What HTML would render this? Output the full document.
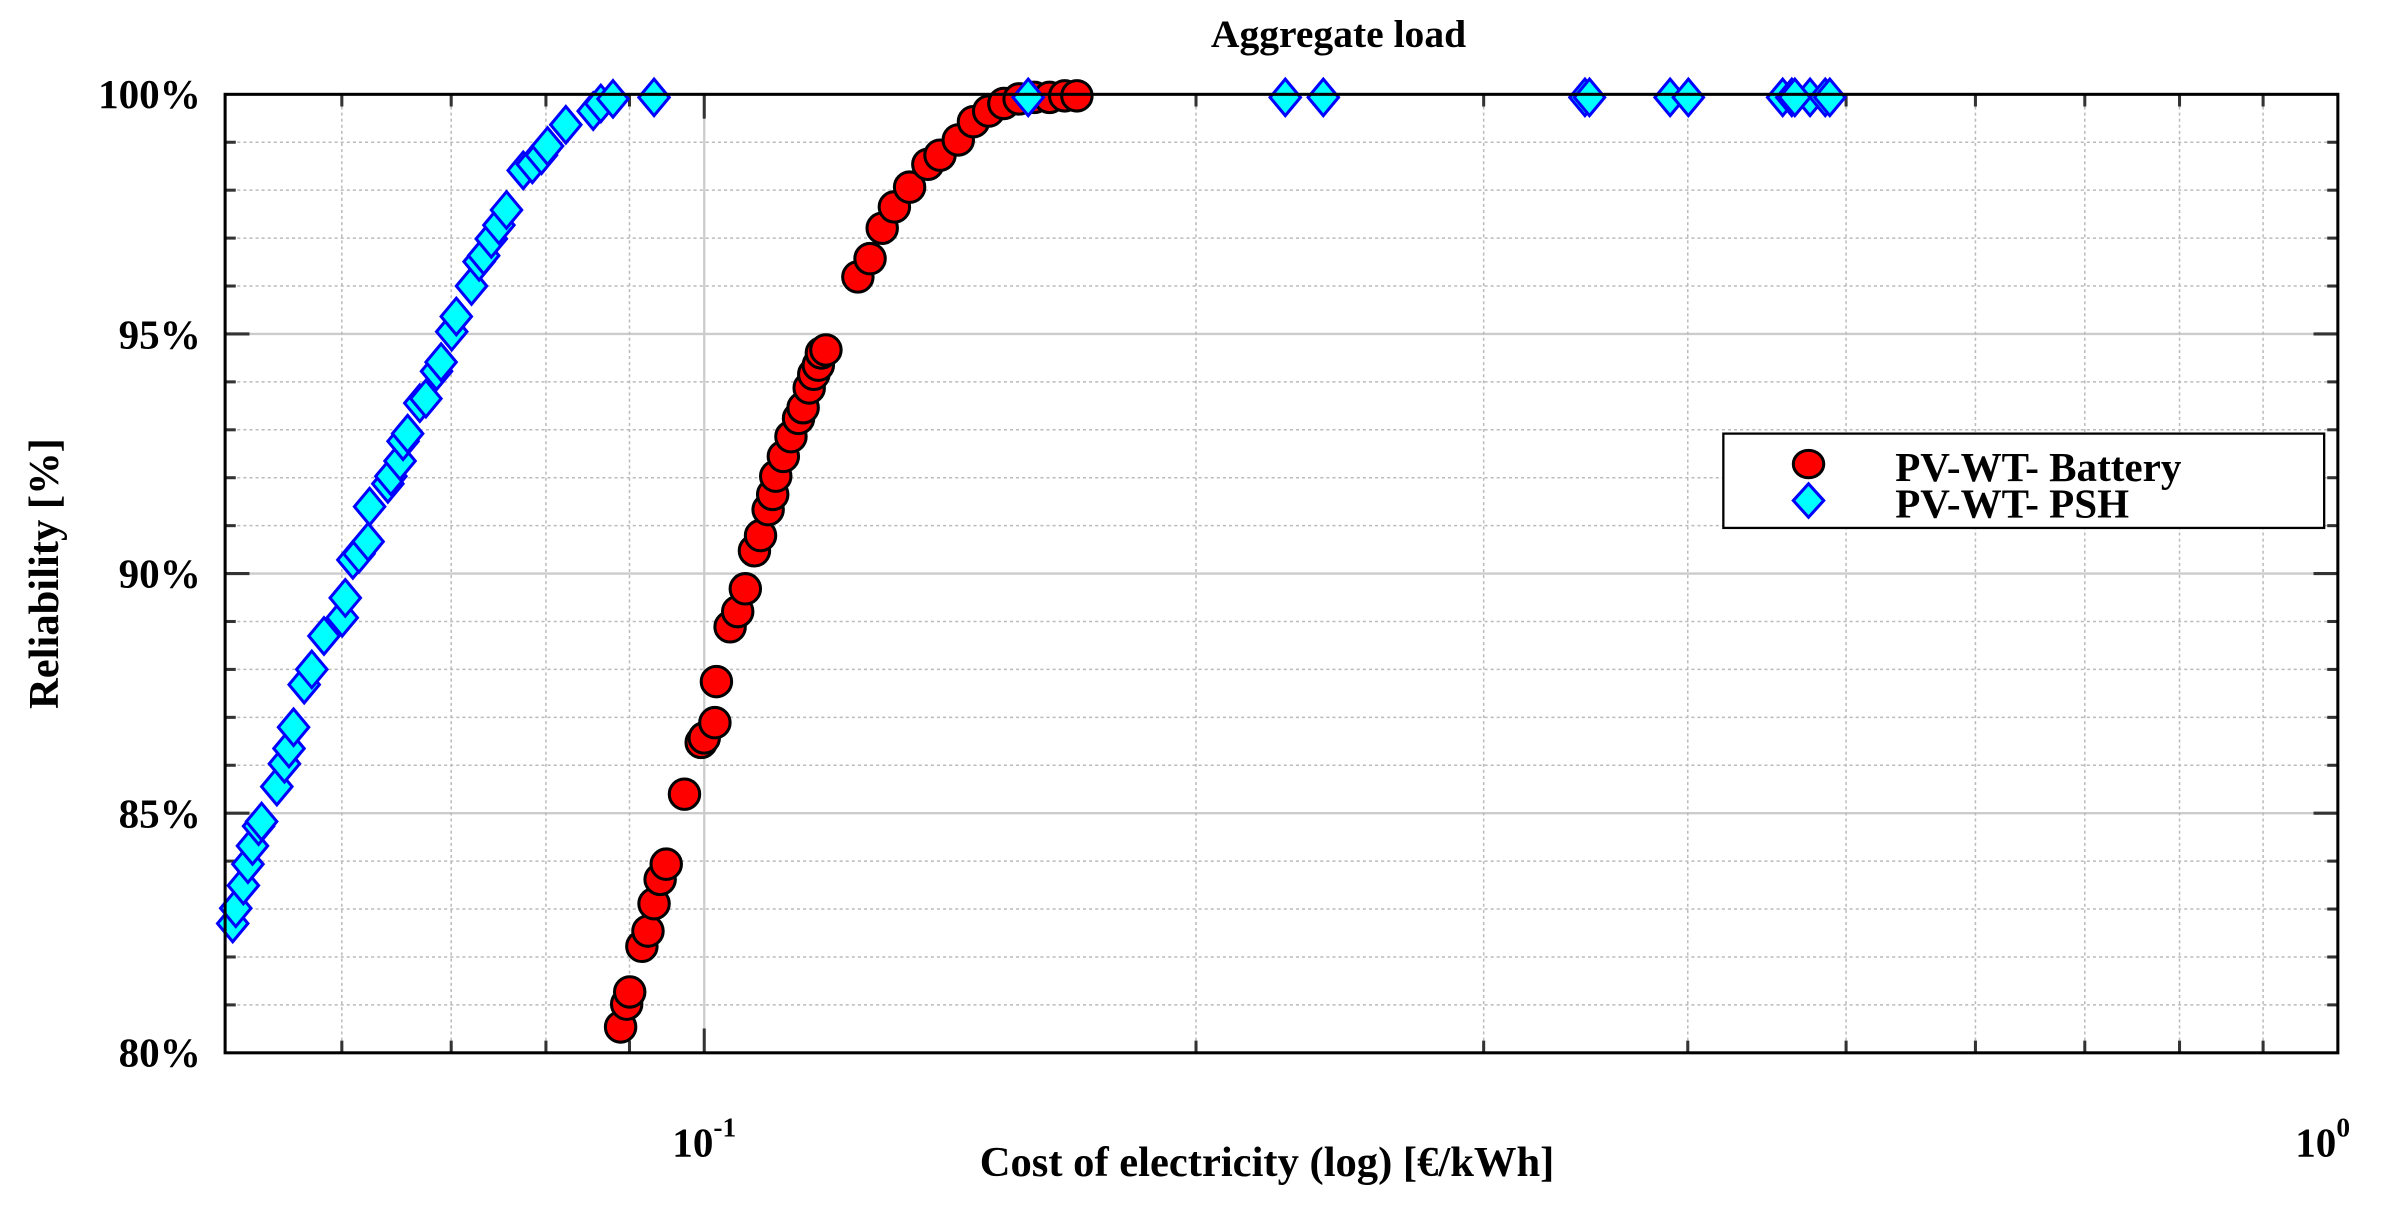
<!DOCTYPE html>
<html><head><meta charset="utf-8"><style>
html,body{margin:0;padding:0;background:#fff;}
svg{display:block;}
text{font-family:"Liberation Serif",serif;font-weight:bold;fill:#000;}
</style></head><body>
<svg id="s" width="2385" height="1208" viewBox="0 0 1568 794" preserveAspectRatio="none" xmlns="http://www.w3.org/2000/svg">
<rect width="1568" height="794" fill="#fff"/>
<g id="grid"></g>
<g id="pts"></g>
<rect x="148" y="62" width="1389" height="630" fill="none" stroke="#000" stroke-width="2"/>
<text x="880" y="31" font-size="26" text-anchor="middle">Aggregate load</text>
<text x="132" y="71" font-size="27" text-anchor="end">100%</text>
<text x="132" y="229" font-size="27" text-anchor="end">95%</text>
<text x="132" y="386" font-size="27" text-anchor="end">90%</text>
<text x="132" y="544" font-size="27" text-anchor="end">85%</text>
<text x="132" y="701" font-size="27" text-anchor="end">80%</text>
<text x="463" y="760" font-size="27" text-anchor="middle">10<tspan dy="-13" font-size="18">-1</tspan></text>
<text x="1527" y="760" font-size="27" text-anchor="middle">10<tspan dy="-13" font-size="18">0</tspan></text>
<text x="833" y="773" font-size="28" text-anchor="middle">Cost of electricity (log) [€/kWh]</text>
<text transform="translate(38,377) rotate(-90)" font-size="28" text-anchor="middle">Reliability [%]</text>
<rect x="1133" y="285" width="395" height="62" fill="#fff" stroke="#000" stroke-width="1.5"/>
<ellipse cx="1189" cy="305" rx="10" ry="9" fill="#f00" stroke="#000" stroke-width="2"/>
<polygon points="1189,318 1199,329 1189,340 1179,329" fill="#0ff" stroke="#00f" stroke-width="2"/>
<text x="1246" y="316" font-size="27">PV-WT- Battery</text>
<text x="1246" y="340" font-size="27">PV-WT- PSH</text>
</svg>
<script>
var NS="http://www.w3.org/2000/svg",g=document.getElementById('grid'),p=document.getElementById('pts');
function el(t,a,par){var e=document.createElementNS(NS,t);for(var k in a)e.setAttribute(k,a[k]);par.appendChild(e);return e;}
function X(v){return 463+1074*Math.log10(v/0.1);}
for(var i=1;i<20;i++){var y=62+i*31.5;var maj=(i%5==0);
el('line',{x1:148,x2:1537,y1:y,y2:y,stroke:maj?'#ccc':'#bbb','stroke-width':maj?1.5:1,'stroke-dasharray':maj?'':'2,2'},g);
el('line',{x1:148,x2:maj?164:155,y1:y,y2:y,stroke:'#333','stroke-width':2},g);
el('line',{x1:1537,x2:maj?1521:1530,y1:y,y2:y,stroke:'#333','stroke-width':2},g);}
var xs=[0.06,0.07,0.08,0.09,0.1,0.2,0.3,0.4,0.5,0.6,0.7,0.8,0.9];
xs.forEach(function(v){var x=X(v);var maj=Math.abs(v-0.1)<1e-9;
el('line',{x1:x,x2:x,y1:62,y2:692,stroke:maj?'#ccc':'#bbb','stroke-width':maj?1.5:1,'stroke-dasharray':maj?'':'2,2'},g);
el('line',{x1:x,x2:x,y1:692,y2:maj?676:684,stroke:'#333','stroke-width':2},g);
el('line',{x1:x,x2:x,y1:62,y2:maj?78:70,stroke:'#333','stroke-width':2},g);});
var red=[[408,675],[412,660],[414,652],[422,622],[426,612],[430,594],[434,578],[438,568],[450,522],[461,488],[463,485],[470,475],[471,448],[480,412],[485,402],[490,387],[496,362],[500,352],[505,335],[508,325],[510,313],[515,300],[520,287],[525,275],[528,268],[532,255],[535,246],[538,240],[540,232],[543,230],[564,182],[572,170],[580,150],[588,136],[598,123],[610,108],[618,102],[630,92],[640,80],[650,73],[660,68],[670,65],[680,64],[690,64],[700,63],[708,63]];
red.forEach(function(q){el('ellipse',{cx:q[0],cy:q[1],rx:10,ry:10,fill:'#f00',stroke:'#000','stroke-width':2},p);});
var blue=[[153,607],[155,597],[160,582],[163,568],[166,556],[170,543],[172,540],[182,517],[187,502],[190,492],[193,478],[200,450],[205,440],[213,418],[225,406],[227,393],[232,368],[236,364],[242,356],[243,333],[255,318],[257,313],[263,303],[265,290],[268,285],[276,265],[280,262],[287,244],[290,238],[297,218],[300,208],[310,188],[315,172],[318,168],[323,157],[328,148],[333,138],[344,112],[350,108],[356,102],[360,96],[372,82],[390,73],[395,68],[403,65],[430,64],[676,64],[845,64],[870,64],[1042,64],[1045,64],[1098,64],[1110,64],[1172,64],[1178,64],[1190,64],[1200,64],[1203,64],[1180,64]];
blue.forEach(function(q){var x=q[0],y=q[1];el('polygon',{points:x+','+(y-12)+' '+(x+10)+','+y+' '+x+','+(y+12)+' '+(x-10)+','+y,fill:'#0ff',stroke:'#00f','stroke-width':2},p);});
</script>
</body></html>
